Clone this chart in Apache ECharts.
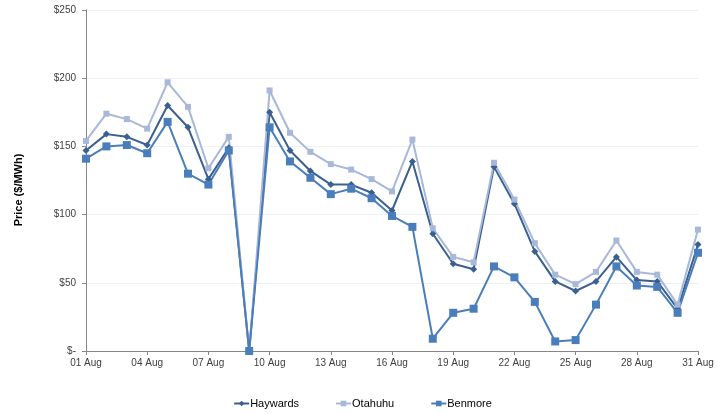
<!DOCTYPE html>
<html>
<head>
<meta charset="utf-8">
<style>
  html, body { margin: 0; padding: 0; background: #fff; }
  #chart { width: 725px; height: 414px; }
</style>
<script src="https://cdn.jsdelivr.net/npm/echarts@6/dist/echarts.min.js"></script>
</head>
<body>
<div id="chart"></div>
<script>
// Daily average prices, August
const days = [
  '01 Aug', '02 Aug', '03 Aug', '04 Aug', '05 Aug', '06 Aug', '07 Aug', '08 Aug',
  '09 Aug', '10 Aug', '11 Aug', '12 Aug', '13 Aug', '14 Aug', '15 Aug', '16 Aug',
  '17 Aug', '18 Aug', '19 Aug', '20 Aug', '21 Aug', '22 Aug', '23 Aug', '24 Aug',
  '25 Aug', '26 Aug', '27 Aug', '28 Aug', '29 Aug', '30 Aug', '31 Aug'
];

const haywards = [
  147, 159, 157, 151, 180, 164, 126, 149, 0, 175, 147, 132, 122, 122, 116, 103,
  139, 86, 64, 60, 135, 108, 73, 51, 44, 51, 69, 52, 51, 31, 78
];

const otahuhu = [
  154, 174, 170, 163, 197, 179, 134, 157, 0, 191, 160, 146, 137, 133, 126, 117,
  155, 90, 69, 65, 138, 111, 79, 56, 49, 58, 81, 58, 56, 34, 89
];

const benmore = [
  141, 150, 151, 145, 168, 130, 122, 147, 0, 164, 139, 127, 115, 119, 112, 99,
  91, 9, 28, 31, 62, 54, 36, 7, 8, 34, 62, 48, 47, 28, 72
];

const yTicks = { min: 0, max: 250, step: 50 };

const textColor = '#404040';
const axisColor = '#868686';
const fontFamily = '"Liberation Sans", Arial, sans-serif';

const chart = echarts.init(document.getElementById('chart'), null, { renderer: 'canvas' });

function lineSeries(name, data, color, symbol, size) {
  return {
    name: name,
    type: 'line',
    data: data,
    symbol: symbol,
    symbolSize: size,
    showSymbol: true,
    lineStyle: { color: color, width: 2 },
    itemStyle: { color: color },
    emphasis: { disabled: true },
    animation: false
  };
}

chart.setOption({
  animation: false,
  textStyle: { fontFamily: fontFamily },
  grid: { left: 86, right: 27, top: 10, bottom: 63 },
  graphic: [{
    type: 'text',
    x: 19,
    y: 190,
    rotation: Math.PI / 2,
    style: {
      text: 'Price ($/MWh)',
      fontSize: 11,
      fontWeight: 'bold',
      fontFamily: fontFamily,
      fill: '#000',
      align: 'center',
      verticalAlign: 'middle'
    }
  }],
  legend: {
    top: 393,
    left: 'center',
    itemWidth: 15,
    itemHeight: 7,
    itemGap: 36,
    textStyle: { fontSize: 11, color: '#000', fontFamily: fontFamily, padding: [0, 0, 0, -4] },
    data: ['Haywards', 'Otahuhu', 'Benmore']
  },
  xAxis: {
    type: 'category',
    data: days,
    boundaryGap: false,
    axisLine: { lineStyle: { color: axisColor, width: 1 } },
    axisTick: { interval: 2, length: 4, lineStyle: { color: axisColor } },
    axisLabel: { interval: 2, fontSize: 10, color: textColor, margin: 7, fontFamily: fontFamily },
    splitLine: { show: false }
  },
  yAxis: {
    type: 'value',
    min: yTicks.min,
    max: yTicks.max,
    interval: yTicks.step,
    axisLine: { show: true, lineStyle: { color: axisColor, width: 1 } },
    axisTick: { show: true, length: 4, lineStyle: { color: axisColor } },
    axisLabel: {
      fontSize: 10,
      color: textColor,
      margin: 10,
      fontFamily: fontFamily,
      formatter: v => (v === 0 ? '$-' : '$' + v)
    },
    splitLine: { show: true, lineStyle: { color: '#eef0f6', width: 1 } }
  },
  series: [
    lineSeries('Haywards', haywards, '#3a5f91', 'diamond', 7),
    lineSeries('Otahuhu', otahuhu, '#a8b8d8', 'rect', 6),
    lineSeries('Benmore', benmore, '#4a7ebb', 'rect', 8)
  ]
});
</script>
</body>
</html>
